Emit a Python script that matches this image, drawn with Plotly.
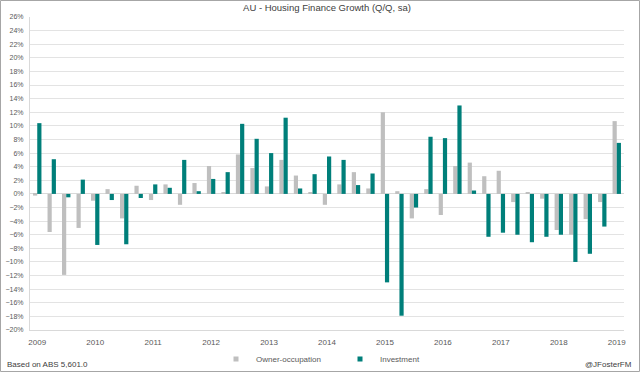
import plotly.graph_objects as go

quarters = [f"{y}Q{q}" for y in range(2009, 2019) for q in range(1, 5)] + ["2019Q1"]
year_ticks = [f"{y}Q1" for y in range(2009, 2020)]
year_labels = [str(y) for y in range(2009, 2020)]

owner_occupation = [-0.25, -5.6, -11.9, -5.0,
                    -1.0, 0.7, -3.6, 1.2,
                    -0.9, 1.4, -1.6, 1.6,
                    4.1, 0.2, 5.8, 3.8,
                    1.1, 5.0, 2.7, 0.2,
                    -1.6, 1.4, 3.2, 0.8,
                    12.0, 0.4, -3.6, 0.7,
                    -3.1, 4.1, 4.6, 2.6,
                    3.4, -1.2, 0.25, -0.7,
                    -5.3, -6.0, -3.7, -1.2,
                    10.7]
investment = [10.4, 5.1, -0.5, 2.1,
              -7.5, -0.9, -7.4, -0.6,
              1.4, 0.9, 5.0, 0.4,
              2.2, 3.2, 10.3, 8.1,
              6.0, 11.2, 0.8, 2.9,
              5.5, 5.0, 1.3, 3.0,
              -13.0, -17.9, -2.0, 8.4,
              8.2, 13.0, 0.5, -6.3,
              -5.7, -6.0, -7.1, -6.3,
              -6.0, -10.0, -8.8, -4.8,
              7.5]

FONT = "Liberation Sans"
GREY_TXT = "#595959"
C_OWN = "#BFBFBF"
C_INV = "#007F7A"

fig = go.Figure()
fig.add_trace(go.Bar(x=quarters, y=owner_occupation, name="Owner-occupation", showlegend=False,
                     marker=dict(color=C_OWN, line=dict(width=0))))
fig.add_trace(go.Bar(x=quarters, y=investment, name="Investment", showlegend=False,
                     marker=dict(color=C_INV, line=dict(width=0))))
# legend entries with small square markers
fig.add_trace(go.Scatter(x=[None], y=[None], mode="markers", name="Owner-occupation",
                         marker=dict(symbol="square", size=5, color=C_OWN)))
fig.add_trace(go.Scatter(x=[None], y=[None], mode="markers", name="Investment",
                         marker=dict(symbol="square", size=5, color=C_INV)))

L, R, T, B = 30, 16, 17, 42
W, H = 640, 372
pw, ph = W - L - R, H - T - B

fig.update_layout(
    width=W, height=H, autosize=False,
    margin=dict(l=L, r=R, t=T, b=B, pad=0, autoexpand=False),
    paper_bgcolor="white", plot_bgcolor="white",
    barmode="group", bargap=0.42, bargroupgap=0.0,
    font=dict(family=FONT, size=8, color=GREY_TXT),
    title=dict(text="AU - Housing Finance Growth (Q/Q, sa)", x=(L + pw / 2) / W, xanchor="center",
               y=1 - 8 / H, yanchor="middle", font=dict(family=FONT, size=9.5, color="#404040")),
    showlegend=True,
    legend=dict(orientation="h", xref="container", x=216 / W, xanchor="left",
                yref="container", y=1 - 359 / H, yanchor="middle",
                font=dict(family=FONT, size=8, color=GREY_TXT), entrywidth=79, entrywidthmode="pixels",
                itemwidth=30, tracegroupgap=0, bgcolor="rgba(0,0,0,0)"),
    xaxis=dict(type="category", categoryorder="array", categoryarray=quarters,
               tickmode="array", tickvals=year_ticks, ticktext=year_labels, automargin=False,
               showgrid=False, showline=True, linecolor="#D9D9D9", linewidth=1,
               ticks="", tickfont=dict(family=FONT, size=8, color=GREY_TXT), ticklabelstandoff=4),
    yaxis=dict(range=[-20, 26], dtick=2, ticksuffix="%", showgrid=True, gridcolor="#E3E3E3", gridwidth=1,
               zeroline=True, zerolinecolor="#D9D9D9", zerolinewidth=1, automargin=False,
               showline=True, linecolor="#D9D9D9", linewidth=1, ticks="",
               tickfont=dict(family=FONT, size=7, color=GREY_TXT), ticklabelstandoff=4),
)

fig.add_annotation(text="Based on ABS 5,601.0", xref="paper", yref="paper",
                   x=(5 - L) / pw, xanchor="left", y=-(364 - (T + ph)) / ph, yanchor="middle",
                   showarrow=False, font=dict(family=FONT, size=8, color="#404040"))
fig.add_annotation(text="@JFosterFM", xref="paper", yref="paper",
                   x=(634 - L) / pw, xanchor="right", y=-(364 - (T + ph)) / ph, yanchor="middle",
                   showarrow=False, font=dict(family=FONT, size=8, color="#404040"))

fig.add_shape(type="rect", xref="paper", yref="paper",
              x0=(0.5 - L) / pw, x1=(W - 0.5 - L) / pw,
              y0=-(H - 0.5 - (T + ph)) / ph, y1=(T + ph - 0.5) / ph,
              line=dict(color="#A6A6A6", width=1), fillcolor="rgba(0,0,0,0)", layer="below")

fig.write_html("out.html", config={"displayModeBar": False},
               post_script="document.body.style.margin='0';document.body.style.padding='0';document.body.style.overflow='hidden';")
